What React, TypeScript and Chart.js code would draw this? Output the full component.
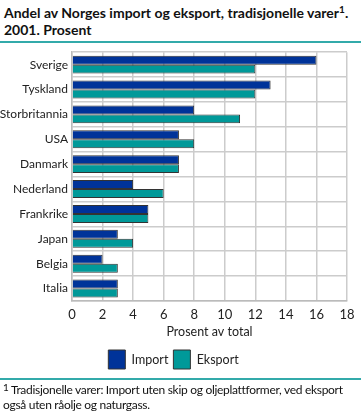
import React, { useEffect, useRef } from "react";
import { Chart, registerables } from "chart.js";

Chart.register(...registerables);

const categories = ["Sverige", "Tyskland", "Storbritannia", "USA", "Danmark", "Nederland", "Frankrike", "Japan", "Belgia", "Italia"];
const importValues = [16, 13, 8, 7, 7, 4, 5, 3, 2, 3];
const eksportValues = [12, 12, 11, 8, 7, 6, 5, 4, 3, 3];
const seriesNames = ["Import", "Eksport"];
const xTicks = [0, 2, 4, 6, 8, 10, 12, 14, 16, 18];

const FONT = "Lato, 'Open Sans', sans-serif";

export default function App() {
  const ref = useRef<HTMLCanvasElement>(null);
  useEffect(() => {
    document.body.style.margin = "0";
    const chart = new Chart(ref.current!, {
      type: "bar",
      data: {
        labels: categories,
        datasets: [
          { label: seriesNames[0], data: importValues, backgroundColor: "#003399", borderColor: "#333333", borderWidth: 1 },
          { label: seriesNames[1], data: eksportValues, backgroundColor: "#009999", borderColor: "#333333", borderWidth: 1 },
        ],
      },
      options: {
        indexAxis: "y",
        animation: false,
        responsive: false,
        maintainAspectRatio: false,
        datasets: { bar: { categoryPercentage: 0.72, barPercentage: 1 } },
        layout: { padding: { top: 0, right: 14, left: 0, bottom: 1 } },
        scales: {
          x: {
            min: 0,
            max: 18,
            afterBuildTicks: (s: any) => { s.ticks = xTicks.map((v) => ({ value: v })); },
            afterFit: (s: any) => { s.height = 44; },
            grid: { color: "#cccccc", lineWidth: 1.5, drawTicks: false },
            border: { color: "#bbbbbb", width: 1.5 },
            ticks: { color: "#222", font: { family: FONT, size: 13 }, padding: 6 },
            title: { display: true, text: "Prosent av total", color: "#222", font: { family: FONT, size: 12.5 }, padding: { top: 2, bottom: 6 } },
          },
          y: {
            afterFit: (s: any) => { s.width = 72; },
            grid: { color: "#cccccc", lineWidth: 1.5, drawTicks: false, offset: true },
            border: { color: "#bbbbbb", width: 1.5 },
            ticks: { color: "#222", font: { family: FONT, size: 12 }, padding: 4 },
          },
        },
        plugins: {
          legend: {
            position: "bottom",
            labels: { boxWidth: 17, boxHeight: 19, color: "#222", font: { family: FONT, size: 12.5 }, padding: 5 },
          },
          tooltip: { enabled: false },
        },
      },
    });
    return () => chart.destroy();
  }, []);

  return (
    <div style={{ position: "relative", width: 361, height: 415, background: "#fff", fontFamily: FONT, color: "#111" }}>
      <div style={{ position: "absolute", left: 4, top: 4, fontSize: 14, fontWeight: 700, lineHeight: "17px", width: 357, whiteSpace: "nowrap" }}>
        Andel av Norges import og eksport, tradisjonelle varer<sup style={{ fontSize: 10, verticalAlign: "top", lineHeight: "10px" }}>1</sup>.
        <br />2001. Prosent
      </div>
      <div style={{ position: "absolute", left: 0, top: 41, width: 361, height: 2, background: "#33aaaa" }} />
      <canvas ref={ref} width={361} height={339} style={{ position: "absolute", left: 0, top: 41 }} />
      <div style={{ position: "absolute", left: 0, top: 378, width: 361, height: 2, background: "#33aaaa" }} />
      <div style={{ position: "absolute", left: 3, top: 382, fontSize: 12, lineHeight: "15px", width: 358, letterSpacing: "-0.3px" }}>
        <sup style={{ fontSize: 10, verticalAlign: "top", lineHeight: "10px" }}>1</sup> Tradisjonelle varer: Import uten skip og oljeplattformer, ved eksport også uten råolje og naturgass.
      </div>
    </div>
  );
}
